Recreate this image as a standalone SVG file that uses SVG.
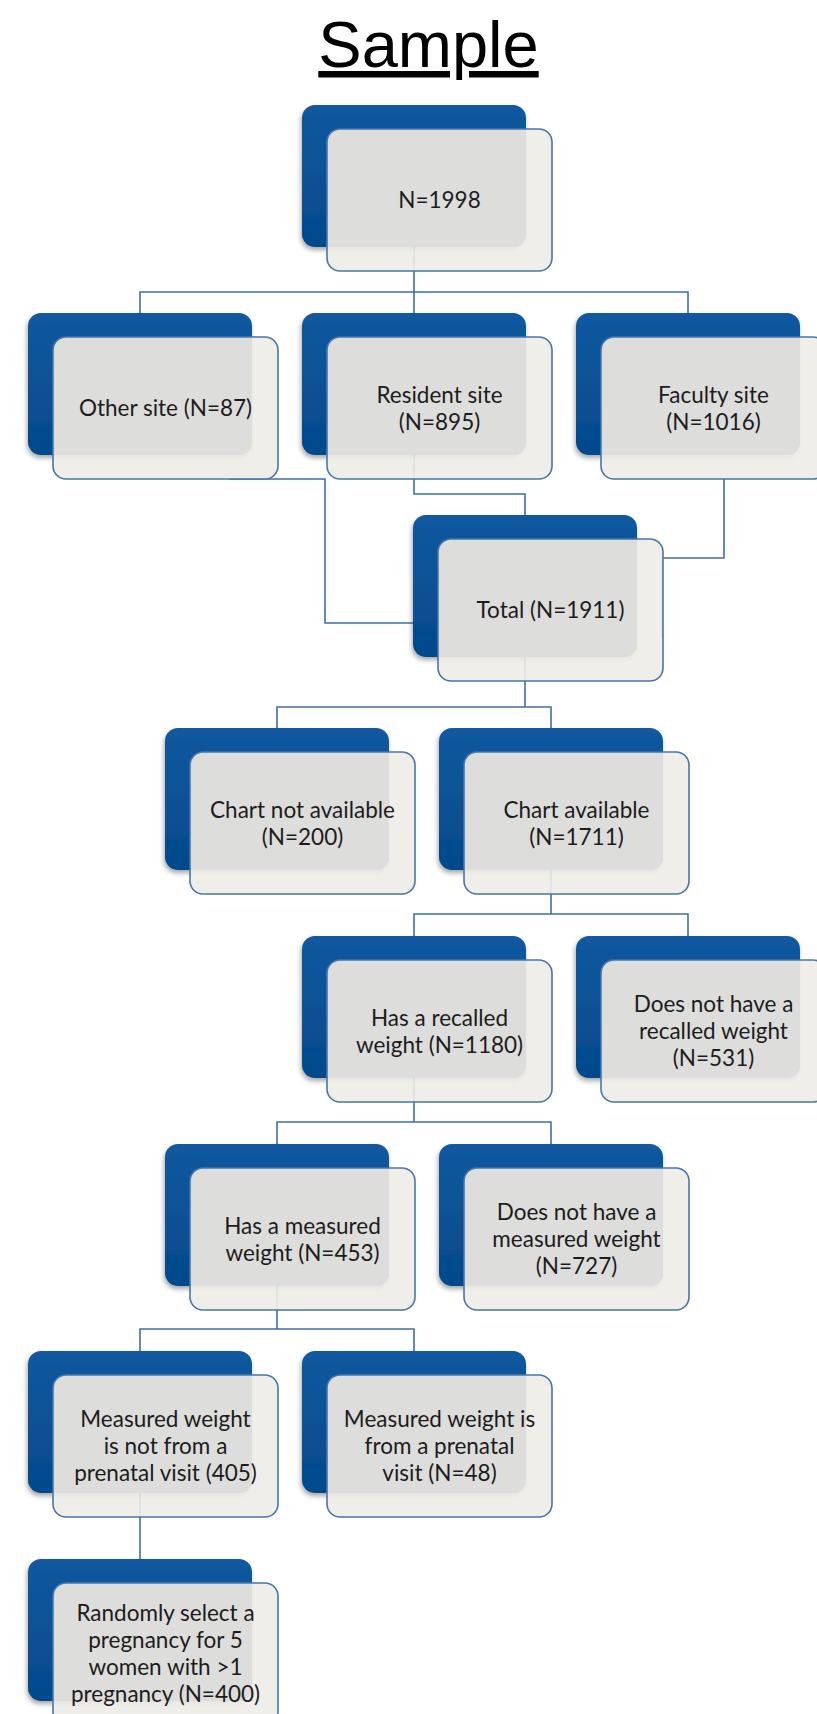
<svg xmlns="http://www.w3.org/2000/svg" xmlns:xlink="http://www.w3.org/1999/xlink" width="817" height="1714" viewBox="0 0 817 1714">
<defs>
<linearGradient id="blue" x1="0" y1="0" x2="0" y2="1">
<stop offset="0" stop-color="#12599f"/>
<stop offset="1" stop-color="#03498b"/>
</linearGradient>
<filter id="sh" x="-10%" y="-10%" width="120%" height="125%">
<feDropShadow dx="-1" dy="3" stdDeviation="2.5" flood-color="#000" flood-opacity="0.35"/>
</filter>
<rect id="back" width="224" height="142" rx="13"/>
<rect id="front" x="25" y="24" width="225" height="142" rx="13"/>
<path id="over" d="M38,24 H224 V129 A13,13 0 0 1 211,142 H25 V37 A13,13 0 0 1 38,24 Z"/>
<g id="box">
<use xlink:href="#back" class="bk"/>
<use xlink:href="#front" class="fr"/>
<use xlink:href="#over" class="ov"/>
<use xlink:href="#front" class="frs"/>
</g>
</defs>
<style>
.bk{fill:url(#blue);filter:url(#sh)}
.fr{fill:#edece5;fill-opacity:0.9}
.ov{fill:#dddddb}
.frs{fill:none;stroke:#4775ab;stroke-width:1.6}
.lbl{font-family:Lato,"Open Sans",sans-serif;font-size:22.5px;fill:#1c1c1c;text-anchor:middle}
.conn{fill:none;stroke:#3f6fa6;stroke-width:1.6}
.title{font-family:"Liberation Sans",Arial,sans-serif;font-size:65px;fill:#000;text-anchor:middle;text-decoration:underline}
</style>
<rect width="817" height="1714" fill="#fff"/>
<text class="title" x="428.5" y="67">Sample</text>

<g id="connectors" class="conn">
<path d="M414,247 V313 M140,313 V292 H688 V313"/>
<path d="M229,479 H325 V623 H420"/>
<path d="M414,455 V494 H525 V515"/>
<path d="M724,479 V558 H662 V638"/>
<path d="M525,657 V707 M277,728 V707 H551 V728"/>
<path d="M551,870 V914 M414,936 V914 H688 V936"/>
<path d="M414,1078 V1122 M277,1144 V1122 H551 V1144"/>
<path d="M277,1286 V1329 M140,1351 V1329 H414 V1351"/>
<path d="M140,1493 V1559"/>
</g>

<g id="n1998"><use xlink:href="#box" transform="translate(302,105)"/>
<text class="lbl" x="439.5" y="208">N=1998</text></g>

<g id="other"><use xlink:href="#box" transform="translate(28,313)"/>
<text class="lbl" x="165.5" y="416">Other site (N=87)</text></g>

<g id="resident"><use xlink:href="#box" transform="translate(302,313)"/>
<text class="lbl" x="439.5" y="402.5">Resident site</text>
<text class="lbl" x="439.5" y="429.5">(N=895)</text></g>

<g id="faculty"><use xlink:href="#box" transform="translate(576,313)"/>
<text class="lbl" x="713.5" y="402.5">Faculty site</text>
<text class="lbl" x="713.5" y="429.5">(N=1016)</text></g>

<g id="total"><use xlink:href="#box" transform="translate(413,515)"/>
<text class="lbl" x="550.5" y="618">Total (N=1911)</text></g>

<g id="chartno"><use xlink:href="#box" transform="translate(165,728)"/>
<text class="lbl" x="302.5" y="817.5">Chart not available</text>
<text class="lbl" x="302.5" y="844.5">(N=200)</text></g>

<g id="chartyes"><use xlink:href="#box" transform="translate(439,728)"/>
<text class="lbl" x="576.5" y="817.5">Chart available</text>
<text class="lbl" x="576.5" y="844.5">(N=1711)</text></g>

<g id="recalled"><use xlink:href="#box" transform="translate(302,936)"/>
<text class="lbl" x="439.5" y="1025.5">Has a recalled</text>
<text class="lbl" x="439.5" y="1052.5">weight (N=1180)</text></g>

<g id="norecalled"><use xlink:href="#box" transform="translate(576,936)"/>
<text class="lbl" x="713.5" y="1012">Does not have a</text>
<text class="lbl" x="713.5" y="1039">recalled weight</text>
<text class="lbl" x="713.5" y="1066">(N=531)</text></g>

<g id="measured"><use xlink:href="#box" transform="translate(165,1144)"/>
<text class="lbl" x="302.5" y="1233.5">Has a measured</text>
<text class="lbl" x="302.5" y="1260.5">weight (N=453)</text></g>

<g id="nomeasured"><use xlink:href="#box" transform="translate(439,1144)"/>
<text class="lbl" x="576.5" y="1220">Does not have a</text>
<text class="lbl" x="576.5" y="1247">measured weight</text>
<text class="lbl" x="576.5" y="1274">(N=727)</text></g>

<g id="notprenatal"><use xlink:href="#box" transform="translate(28,1351)"/>
<text class="lbl" x="165.5" y="1427">Measured weight</text>
<text class="lbl" x="165.5" y="1454">is not from a</text>
<text class="lbl" x="165.5" y="1481">prenatal visit (405)</text></g>

<g id="prenatal"><use xlink:href="#box" transform="translate(302,1351)"/>
<text class="lbl" x="439.5" y="1427">Measured weight is</text>
<text class="lbl" x="439.5" y="1454">from a prenatal</text>
<text class="lbl" x="439.5" y="1481">visit (N=48)</text></g>

<g id="random"><use xlink:href="#box" transform="translate(28,1559)"/>
<text class="lbl" x="165.5" y="1621">Randomly select a</text>
<text class="lbl" x="165.5" y="1648">pregnancy for 5</text>
<text class="lbl" x="165.5" y="1675">women with &gt;1</text>
<text class="lbl" x="165.5" y="1702">pregnancy (N=400)</text></g>
</svg>
